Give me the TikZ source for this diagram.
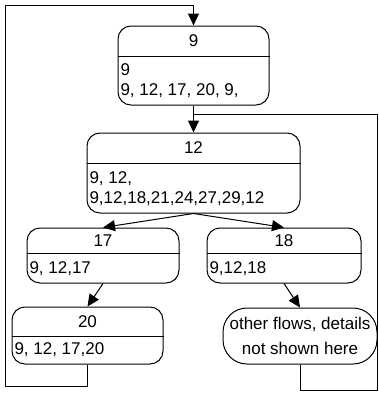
\documentclass[tikz,border=0pt]{standalone}
\usepackage{fontspec}
\setmainfont{Liberation Sans}
\usetikzlibrary{arrows.meta}

\begin{document}
\begin{tikzpicture}[x=1pt, y=-1pt, line width=1pt, font=\fontsize{17}{19.5}\selectfont,
    box/.style={draw, rounded corners=13pt, inner sep=0pt},
    head/.style={inner sep=0pt, anchor=center},
    body/.style={inner sep=2.5pt, anchor=west, align=left},
    arr/.style={-{Triangle[length=12pt, width=11pt]}}]
    \useasboundingbox (0,0) rectangle (378,394);

    \node[box, minimum width=151pt, minimum height=79pt] (n9) at (193.5,65.5) {};
    \node[box, minimum width=213pt, minimum height=80pt] (n12) at (193.5,173) {};
    \node[box, minimum width=152pt, minimum height=55pt] (n17) at (103,255.5) {};
    \node[box, minimum width=154pt, minimum height=55pt] (n18) at (284,255.5) {};
    \node[box, minimum width=151pt, minimum height=57pt] (n20) at (87.5,335.5) {};
    \node[draw, rounded corners=24pt, minimum width=154pt, minimum height=56pt,
          align=center, font=\fontsize{17}{25}\selectfont] (other) at (300,336)
          {other flows, details\\not shown here};

    \draw (n9.west |- 0,56) -- (n9.east |- 0,56);
    \draw (n12.west |- 0,163) -- (n12.east |- 0,163);
    \draw (n17.west |- 0,253) -- (n17.east |- 0,253);
    \draw (n18.west |- 0,253) -- (n18.east |- 0,253);
    \draw (n20.west |- 0,336) -- (n20.east |- 0,336);

    \node[head] (n9h) at (n9.north |- 0,41) {9};
    \node[head] (n12h) at (n12.north |- 0,148) {12};
    \node[head] (n17h) at (n17.north |- 0,241) {17};
    \node[head] (n18h) at (n18.north |- 0,241) {18};
    \node[head] (n20h) at (n20.north |- 0,322) {20};

    \node[body] (n9b) at (n9.west |- 0,80.5) {9\\9, 12, 17, 20, 9,};
    \node[body] (n12b) at (n12.west |- 0,188.5) {9, 12,\\9,12,18,21,24,27,29,12};
    \node[body] (n17b) at (n17.west |- 0,268.5) {9, 12,17};
    \node[body] (n18b) at (n18.west |- 0,268.5) {9,12,18};
    \node[body] (n20b) at (n20.west |- 0,350) {9, 12, 17,20};

    \coordinate (lt) at (5,5);
    \coordinate (lb) at (5,386);
    \coordinate (rt) at (377,114);
    \coordinate (rb) at (377,390);

    \draw[arr] (n9.south) -- (n12.north);
    \draw[arr] (n12.south) -- (n17.north);
    \draw[arr] (n12.south) -- (n18.north);
    \draw[arr] (n17.south) -- (n20.north);
    \draw[arr] (n18.south) -- (other.north);

    \draw[arr] (n20.south) |- (lb) -- (lt) -| (n9.north);
    \draw (other.south) |- (rb) -- (rt) -- (rt -| n9.south);
\end{tikzpicture}
\end{document}
